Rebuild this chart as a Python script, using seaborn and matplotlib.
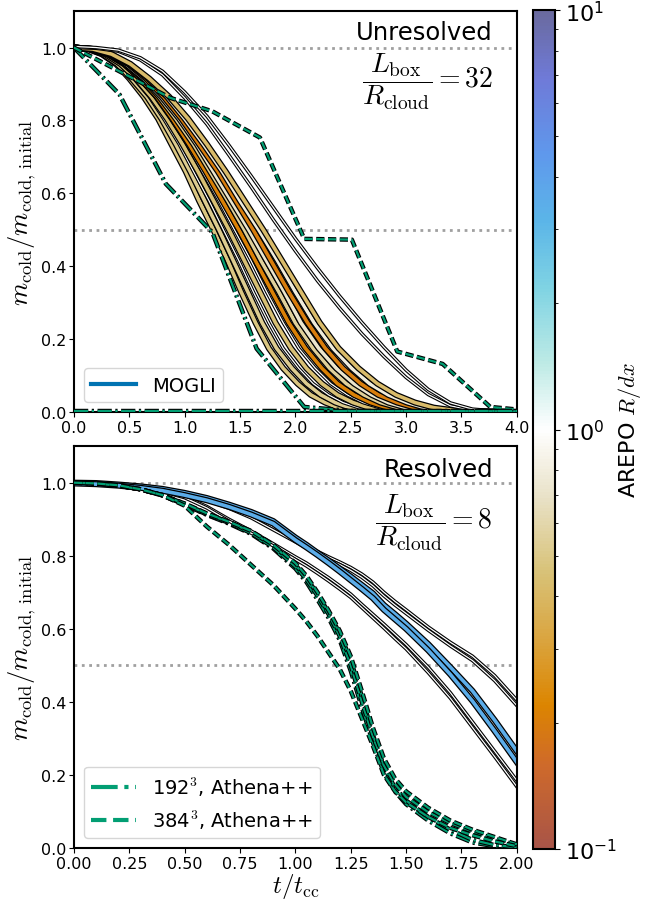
import matplotlib
matplotlib.use("Agg")
import matplotlib.pyplot as plt
import matplotlib.patheffects as pe
from matplotlib.colors import LinearSegmentedColormap, LogNorm
from matplotlib.cm import ScalarMappable
from matplotlib.lines import Line2D
import seaborn as sns

plt.rcParams['font.family'] = ['DejaVu Sans']
plt.rcParams['mathtext.fontset'] = 'cm'

# ---------------- DATA ----------------
# Top panel (unresolved, L_box/R_cloud = 32)
# AREPO band curves: shared mass fractions, per-curve times
band_mass = [1.0, 0.996, 0.982, 0.955, 0.915, 0.865, 0.805, 0.735, 0.66, 0.58, 0.50,
             0.415, 0.33, 0.245, 0.175, 0.12, 0.078, 0.047, 0.026, 0.012, 0.005, 0.001, 0.0]
band_times = [
    [0, .13, .25, .38, .50, .63, .76, .88, 1.01, 1.13, 1.26, 1.39, 1.51, 1.64, 1.76, 1.89, 2.02, 2.14, 2.27, 2.39, 2.52, 2.65, 4.0],
    [0, .13, .26, .39, .52, .66, .79, .92, 1.05, 1.18, 1.31, 1.44, 1.57, 1.70, 1.83, 1.97, 2.10, 2.23, 2.36, 2.49, 2.62, 2.75, 4.0],
    [0, .14, .27, .41, .54, .68, .81, .95, 1.08, 1.22, 1.35, 1.49, 1.62, 1.76, 1.89, 2.03, 2.16, 2.30, 2.43, 2.57, 2.70, 2.84, 4.0],
    [0, .14, .28, .42, .56, .70, .84, .98, 1.12, 1.26, 1.40, 1.54, 1.68, 1.82, 1.96, 2.10, 2.24, 2.38, 2.52, 2.66, 2.80, 2.94, 4.0],
    [0, .15, .29, .44, .58, .73, .87, 1.02, 1.16, 1.31, 1.45, 1.60, 1.74, 1.89, 2.03, 2.18, 2.32, 2.47, 2.61, 2.76, 2.90, 3.05, 4.0],
    [0, .15, .30, .45, .60, .75, .89, 1.04, 1.19, 1.34, 1.49, 1.64, 1.79, 1.94, 2.09, 2.24, 2.38, 2.53, 2.68, 2.83, 2.98, 3.13, 4.0],
    [0, .15, .31, .46, .62, .77, .92, 1.08, 1.23, 1.39, 1.54, 1.69, 1.85, 2.00, 2.16, 2.31, 2.46, 2.62, 2.77, 2.93, 3.08, 3.23, 4.0],
    [0, .16, .32, .47, .63, .79, .95, 1.11, 1.26, 1.42, 1.58, 1.74, 1.90, 2.05, 2.21, 2.37, 2.53, 2.69, 2.84, 3.00, 3.16, 3.32, 4.0],
    [0, .16, .32, .49, .65, .81, .97, 1.13, 1.30, 1.46, 1.62, 1.78, 1.94, 2.11, 2.27, 2.43, 2.59, 2.75, 2.92, 3.08, 3.24, 3.40, 4.0],
    [0, .17, .33, .50, .67, .84, 1.00, 1.17, 1.34, 1.50, 1.67, 1.84, 2.00, 2.17, 2.34, 2.51, 2.67, 2.84, 3.01, 3.17, 3.34, 3.51, 4.0],
    [0, .17, .34, .51, .68, .86, 1.03, 1.20, 1.37, 1.54, 1.71, 1.88, 2.05, 2.22, 2.39, 2.57, 2.74, 2.91, 3.08, 3.25, 3.42, 3.59, 4.0],
]
band_rdx = [0.48, 0.52, 1.0, 0.45, 1.0, 0.21, 0.55, 0.72, 0.20, 0.78, 0.42]
band_thin = [False, False, True, False, True, False, False, False, False, False, False]

t_top = [0.0, 0.2, 0.4, 0.6, 0.8, 1.0, 1.2, 1.4, 1.6, 1.8, 2.0, 2.2, 2.4, 2.6, 2.8,
         3.0, 3.2, 3.4, 3.6, 3.8, 4.0]
top_thin_a = [1.000, 0.998, 0.990, 0.966, 0.925, 0.862, 0.790, 0.705, 0.618, 0.528, 0.442,
              0.360, 0.285, 0.215, 0.152, 0.095, 0.048, 0.017, 0.005, 0.002, 0.001]
top_thin_b = [1.003, 1.000, 0.993, 0.972, 0.935, 0.878, 0.812, 0.732, 0.648, 0.562, 0.476,
              0.395, 0.318, 0.246, 0.178, 0.115, 0.062, 0.025, 0.008, 0.003, 0.001]
top_thin_rdx = 1.0

# Athena++ (top)
ath192_top_t = [0.0, 0.41, 0.83, 1.25, 1.65, 2.08, 2.5, 4.0]
ath192_top_m = [1.0, 0.872, 0.626, 0.493, 0.174, 0.014, 0.003, 0.002]
ath384_top_t = [0.0, 0.87, 1.25, 1.68, 2.08, 2.51, 2.92, 3.33, 3.76, 4.0]
ath384_top_m = [1.0, 0.862, 0.825, 0.753, 0.475, 0.473, 0.166, 0.132, 0.014, 0.007]
ath_zero_t = [0.0, 4.0]
ath_zero_m = [0.002, 0.002]

# Bottom panel (resolved, L_box/R_cloud = 8)
t_bot = [0.0, 0.1, 0.2, 0.3, 0.4, 0.5, 0.6, 0.7, 0.8, 0.9, 1.0, 1.05, 1.1, 1.15, 1.2, 1.25,
         1.3, 1.35, 1.4, 1.45, 1.5, 1.6, 1.7, 1.8, 1.9, 2.0]
blue_1 = [1.0, 0.999, 0.995, 0.990, 0.983, 0.972, 0.958, 0.940, 0.920, 0.895, 0.850, 0.830,
          0.808, 0.787, 0.765, 0.743, 0.720, 0.697, 0.665, 0.640, 0.614, 0.558, 0.495, 0.430,
          0.350, 0.265]
blue_2 = [0.998, 0.996, 0.992, 0.986, 0.978, 0.966, 0.952, 0.934, 0.913, 0.888, 0.843, 0.823,
          0.802, 0.780, 0.757, 0.733, 0.709, 0.684, 0.652, 0.626, 0.600, 0.541, 0.475, 0.402,
          0.320, 0.235]
upper_1 = [1.0, 0.999, 0.996, 0.990, 0.982, 0.970, 0.955, 0.935, 0.910, 0.878, 0.845, 0.828,
           0.812, 0.797, 0.783, 0.768, 0.750, 0.728, 0.700, 0.675, 0.652, 0.605, 0.563, 0.525,
           0.472, 0.405]
upper_2 = [1.0, 0.999, 0.995, 0.989, 0.980, 0.967, 0.951, 0.930, 0.904, 0.871, 0.838, 0.821,
           0.805, 0.790, 0.776, 0.760, 0.741, 0.718, 0.690, 0.665, 0.642, 0.596, 0.553, 0.513,
           0.458, 0.390]
lower_1 = [1.0, 0.999, 0.995, 0.988, 0.978, 0.962, 0.935, 0.900, 0.868, 0.833, 0.797, 0.780,
           0.760, 0.740, 0.718, 0.695, 0.667, 0.640, 0.613, 0.585, 0.557, 0.495, 0.425, 0.345,
           0.265, 0.185]
lower_2 = [1.0, 0.999, 0.994, 0.987, 0.976, 0.959, 0.931, 0.895, 0.862, 0.827, 0.790, 0.772,
           0.752, 0.731, 0.709, 0.686, 0.658, 0.630, 0.602, 0.573, 0.545, 0.480, 0.410, 0.330,
           0.250, 0.168]
bot_blue_rdx = 3.5
bot_thin_rdx = 1.0

ath192_bot = [
    [1.0, 0.998, 0.992, 0.982, 0.965, 0.940, 0.912, 0.888, 0.860, 0.820, 0.765, 0.728,
     0.680, 0.630, 0.570, 0.485, 0.385, 0.290, 0.205, 0.155, 0.120, 0.075, 0.040, 0.015,
     0.005, 0.001],
    [1.0, 0.998, 0.992, 0.982, 0.966, 0.942, 0.915, 0.892, 0.866, 0.828, 0.775, 0.740,
     0.695, 0.645, 0.588, 0.515, 0.415, 0.310, 0.220, 0.165, 0.130, 0.085, 0.050, 0.022,
     0.008, 0.002],
]
ath384_bot = [
    [1.0, 0.998, 0.992, 0.982, 0.965, 0.940, 0.913, 0.890, 0.862, 0.823, 0.770, 0.735,
     0.690, 0.640, 0.580, 0.500, 0.400, 0.305, 0.225, 0.175, 0.140, 0.098, 0.068, 0.045,
     0.025, 0.008],
    [1.0, 0.998, 0.992, 0.982, 0.966, 0.943, 0.916, 0.893, 0.868, 0.830, 0.780, 0.745,
     0.700, 0.650, 0.595, 0.525, 0.430, 0.330, 0.245, 0.190, 0.155, 0.110, 0.075, 0.050,
     0.030, 0.010],
    [1.0, 0.998, 0.993, 0.982, 0.966, 0.937, 0.880, 0.830, 0.775, 0.720, 0.655, 0.620,
     0.580, 0.535, 0.490, 0.430, 0.355, 0.280, 0.200, 0.155, 0.125, 0.085, 0.055, 0.035,
     0.018, 0.005],
]

# colormap anchors (log position, colour)
cmap_pos = [0.0, 0.10, 0.17, 0.25, 0.33, 0.42, 0.50, 0.58, 0.67, 0.75, 0.83, 0.92, 1.0]
cmap_col = ['#A85448', '#CF6A2A', '#DC8500', '#DAA540', '#D8C278', '#E9E2C8', '#FFFFFF',
            '#BDEAE5', '#7FD3E3', '#5BB5E8', '#5F98EC', '#6F7AD8', '#6A6A9E']

# ---------------- PLOT ----------------
cmap = LinearSegmentedColormap.from_list("arepo", list(zip(cmap_pos, cmap_col)))
norm = LogNorm(vmin=0.1, vmax=10)
ATH_GREEN = '#029E73'
MOGLI_BLUE = '#0173B2'

fig = plt.figure(figsize=(6.66, 9.03), dpi=100)
ax1 = fig.add_axes([0.111, 0.5426, 0.665, 0.444])
ax2 = fig.add_axes([0.111, 0.0598, 0.665, 0.445])
cax = fig.add_axes([0.800, 0.0587, 0.033, 0.929])


def draw(ax, t, m, color, lw, stroke, ls='-', z=2):
    sns.lineplot(x=t, y=m, ax=ax, color=color, linewidth=lw, linestyle=ls,
                 sort=False, estimator=None, legend=False, zorder=z,
                 path_effects=[pe.Stroke(linewidth=stroke, foreground='k'), pe.Normal()])


def arepo(ax, t, m, rdx, thin):
    if thin:
        draw(ax, t, m, cmap(norm(rdx)), 0.9, 2.5)
    else:
        draw(ax, t, m, cmap(norm(rdx)), 2.6, 4.4)


for ax in (ax1, ax2):
    ax.axhline(1.0, color='#a0a0a0', ls=':', lw=2, zorder=1)
    ax.axhline(0.5, color='#a0a0a0', ls=':', lw=2, zorder=1)

# top
for tt, rdx, thin in zip(band_times, band_rdx, band_thin):
    arepo(ax1, tt, band_mass, rdx, thin)
arepo(ax1, t_top, top_thin_a, top_thin_rdx, True)
arepo(ax1, t_top, top_thin_b, top_thin_rdx, True)
draw(ax1, ath192_top_t, ath192_top_m, ATH_GREEN, 1.6, 3.2, ls='-.', z=3)
draw(ax1, ath384_top_t, ath384_top_m, ATH_GREEN, 1.6, 3.2, ls='--', z=3)
draw(ax1, ath_zero_t, ath_zero_m, ATH_GREEN, 1.6, 3.2, ls='-.', z=3)

# bottom
for mm in (lower_1, lower_2, upper_1, upper_2):
    arepo(ax2, t_bot, mm, bot_thin_rdx, True)
for mm in (blue_1, blue_2):
    arepo(ax2, t_bot, mm, bot_blue_rdx, False)
for mm in ath192_bot:
    draw(ax2, t_bot, mm, ATH_GREEN, 1.6, 3.2, ls='-.', z=3)
for mm in ath384_bot:
    draw(ax2, t_bot, mm, ATH_GREEN, 1.6, 3.2, ls='--', z=3)

ax1.set_xlim(0, 4)
ax2.set_xlim(0, 2)
ax2.set_xticks([0, 0.25, 0.5, 0.75, 1.0, 1.25, 1.5, 1.75, 2.0])
for ax in (ax1, ax2):
    ax.set_ylim(0, 1.1)
    ax.tick_params(labelsize=11.5, pad=2)
    for s in ax.spines.values():
        s.set_linewidth(1.5)
    ax.set_ylabel(r'$m_\mathrm{cold}/m_\mathrm{cold,\,initial}$', fontsize=19, labelpad=2)
ax1.set_xlabel('')
ax2.set_xlabel(r'$t/t_\mathrm{cc}$', fontsize=18, labelpad=0)

ax1.text(0.946, 0.948, 'Unresolved', transform=ax1.transAxes, ha='right', va='center', fontsize=17.5)
ax1.text(0.946, 0.825, r'$\dfrac{L_\mathrm{box}}{R_\mathrm{cloud}}=32$', transform=ax1.transAxes,
         ha='right', va='center', fontsize=20)
ax2.text(0.946, 0.943, 'Resolved', transform=ax2.transAxes, ha='right', va='center', fontsize=17.5)
ax2.text(0.946, 0.812, r'$\dfrac{L_\mathrm{box}}{R_\mathrm{cloud}}=8$', transform=ax2.transAxes,
         ha='right', va='center', fontsize=20)

ax1.legend(handles=[Line2D([], [], color=MOGLI_BLUE, lw=3, label='MOGLI')],
           loc='lower left', fontsize=14, handlelength=2.3)
ax2.legend(handles=[Line2D([], [], color=ATH_GREEN, lw=3, ls='-.', label=r'192$^3$, Athena++'),
                    Line2D([], [], color=ATH_GREEN, lw=3, ls='--', label=r'384$^3$, Athena++')],
           loc='lower left', fontsize=14, handlelength=2.3)

sm = ScalarMappable(norm=norm, cmap=cmap)
cb = fig.colorbar(sm, cax=cax)
cb.set_label(r'AREPO $R/dx$', fontsize=16, labelpad=0)
cb.ax.tick_params(labelsize=16)
cb.outline.set_linewidth(1.5)

fig.savefig('out.png', dpi=100)
